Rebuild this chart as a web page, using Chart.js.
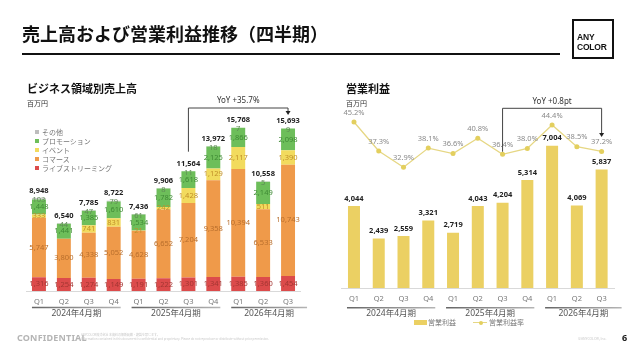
<!DOCTYPE html>
<html><head><meta charset="utf-8">
<script src="https://cdn.jsdelivr.net/npm/chart.js@4.4.1/dist/chart.umd.min.js"></script>
<style>
body{margin:0;width:640px;height:358px;overflow:hidden;background:#fff;position:relative;font-family:'Noto Sans CJK JP','Noto Sans',sans-serif;}
.abs{position:absolute;white-space:nowrap;}
canvas{position:absolute;top:0;}
.lg{position:absolute;left:35px;font-size:7px;line-height:9px;color:#777;}
.lg i{display:inline-block;width:4px;height:4px;margin-right:3px;vertical-align:1px;}
</style></head><body>
<canvas id="c1" width="320" height="358" style="left:0"></canvas>
<canvas id="c2" width="320" height="358" style="left:320px"></canvas>

<div class="abs" style="left:22px;top:22px;font-size:18px;font-weight:bold;color:#111;line-height:22px;">売上高および営業利益推移（四半期）</div>
<div class="abs" style="left:22px;top:53px;width:538px;height:2px;background:#111;"></div>
<div class="abs" style="left:572px;top:19px;width:38px;height:36px;border:2px solid #111;"></div>
<div class="abs" style="left:577px;top:33px;font-family:'Liberation Sans',sans-serif;font-size:8.5px;font-weight:bold;line-height:9.5px;color:#111;letter-spacing:-0.2px;">ANY<br>COLOR</div>

<div class="abs" style="left:27px;top:81px;font-size:11px;font-weight:bold;line-height:14px;color:#111;">ビジネス領域別売上高</div>
<div class="abs" style="left:27px;top:98px;font-size:7px;line-height:10px;color:#333;">百万円</div>
<div class="lg" style="top:127.5px"><i style="background:#bdbdbd"></i>その他</div>
<div class="lg" style="top:136.5px"><i style="background:#6dbe5a"></i>プロモーション</div>
<div class="lg" style="top:145.5px"><i style="background:#f2db5e"></i>イベント</div>
<div class="lg" style="top:154.5px"><i style="background:#ef9a4a"></i>コマース</div>
<div class="lg" style="top:163.5px"><i style="background:#dc4b4b"></i>ライブストリーミング</div>

<div class="abs" style="left:346px;top:81px;font-size:11px;font-weight:bold;line-height:14px;color:#111;">営業利益</div>
<div class="abs" style="left:346px;top:98px;font-size:7px;line-height:10px;color:#333;">百万円</div>

<div class="abs" style="left:414px;top:320px;width:13px;height:5px;background:#ebd063;"></div>
<div class="abs" style="left:428px;top:318px;font-size:7px;line-height:9px;color:#777;">営業利益</div>
<div class="abs" style="left:473px;top:322px;width:14px;height:1px;background:#e6d784;"></div>
<div class="abs" style="left:478.5px;top:320.5px;width:4px;height:4px;border-radius:2px;background:#e3cf5e;"></div>
<div class="abs" style="left:489px;top:318px;font-size:7px;line-height:9px;color:#777;">営業利益率</div>

<div class="abs" style="left:17px;top:332px;font-family:'Noto Sans',sans-serif;font-size:9px;font-weight:bold;line-height:12px;color:#b5b5b5;letter-spacing:0.2px;">CONFIDENTIAL</div>
<div class="abs" style="left:81px;top:333px;font-size:3px;line-height:4px;color:#c8c8c8;">ANYCOLOR株式会社 本資料の無断転載・複製を禁じます。<br>Information contained in this document is confidential and proprietary. Please do not reproduce or distribute without prior permission.</div>
<div class="abs" style="left:578px;top:336px;font-size:3.5px;line-height:5px;color:#c8c8c8;">©ANYCOLOR, Inc.</div>
<div class="abs" style="left:622px;top:332px;font-family:'Noto Sans',sans-serif;font-size:9px;font-weight:bold;line-height:12px;color:#111;">6</div>

<script>
const quarters = ['Q1','Q2','Q3','Q4','Q1','Q2','Q3','Q4','Q1','Q2','Q3'];
const fiscalYears = ['2024年4月期','2025年4月期','2026年4月期'];
const fiscalYearQuarterCounts = [4,4,3];

const liveStreaming = [1316,1254,1274,1149,1191,1222,1301,1341,1385,1360,1454];
const commerce      = [5747,3800,4338,5052,4628,6652,7204,9358,10394,6533,10743];
const events        = [333,1,741,831,21,242,1428,1129,2117,511,1390];
const promotion     = [1448,1441,1385,1610,1534,1782,1618,2125,1866,2149,2098];
const otherSales    = [103,44,47,79,61,8,11,18,7,5,9];
const totalSales    = [8948,6540,7785,8722,7436,9906,11564,13972,15768,10558,15693];

const operatingProfit = [4044,2439,2559,3321,2719,4043,4204,5314,7004,4069,5837];
const operatingMargin = [45.2,37.3,32.9,38.1,36.6,40.8,36.4,38.0,44.4,38.5,37.2];

const salesYoY = 'YoY +35.7%';
const marginYoY = 'YoY +0.8pt';

const FONT = "'Noto Sans','Noto Sans CJK JP',sans-serif";
const fmt = v => String(v).replace(/\B(?=(\d{3})+(?!\d))/g, ',');

function groupPlugin(id, opts){
  return {
    id,
    afterDraw(chart){
      const ctx = chart.ctx, xs = chart.scales.x;
      ctx.save();
      let start = 0;
      fiscalYearQuarterCounts.forEach((n, g) => {
        const end = start + n - 1;
        const x1 = xs.getPixelForValue(start) - 7;
        const x2 = xs.getPixelForValue(end) + (g === fiscalYearQuarterCounts.length - 1 ? opts.lastExt : 7);
        const grad = ctx.createLinearGradient(x1, 0, x2, 0);
        grad.addColorStop(0, '#666'); grad.addColorStop(1, '#b5b5b5');
        ctx.strokeStyle = grad; ctx.lineWidth = 1.5;
        ctx.beginPath(); ctx.moveTo(x1, opts.lineY); ctx.lineTo(x2, opts.lineY); ctx.stroke();
        ctx.fillStyle = '#555'; ctx.font = '8.5px ' + FONT;
        ctx.textAlign = 'center'; ctx.textBaseline = 'middle';
        ctx.fillText(fiscalYears[g], (x1 + x2) / 2, opts.textY);
        start += n;
      });
      const b = opts.bracket;
      const xa = xs.getPixelForValue(b.from), xb = xs.getPixelForValue(b.to);
      ctx.strokeStyle = '#444'; ctx.lineWidth = 1;
      ctx.beginPath();
      ctx.moveTo(xa, b.leftBottom); ctx.lineTo(xa, b.top); ctx.lineTo(xb, b.top); ctx.lineTo(xb, b.tip - 3);
      ctx.stroke();
      ctx.fillStyle = '#222';
      ctx.beginPath(); ctx.moveTo(xb - 2.5, b.tip - 4); ctx.lineTo(xb + 2.5, b.tip - 4); ctx.lineTo(xb, b.tip); ctx.closePath(); ctx.fill();
      ctx.fillStyle = '#333'; ctx.font = '8px ' + FONT; ctx.textAlign = 'center'; ctx.textBaseline = 'middle';
      ctx.fillText(b.text, (xa + xb) / 2, b.textY);
      ctx.restore();
    }
  };
}

const xAxis = (h) => ({
  stacked: true,
  grid: {display: false, drawTicks: false},
  border: {display: true, color: '#d9d9d9'},
  ticks: {padding: 6, color: '#777', font: {size: 7.5, family: FONT}, maxRotation: 0, autoSkip: false},
  afterFit(s){ s.height = h; }
});

const barLabels1 = {
  id: 'barLabels1',
  afterDatasetsDraw(chart){
    const ctx = chart.ctx;
    ctx.save(); ctx.textAlign = 'center'; ctx.textBaseline = 'middle';
    chart.data.datasets.forEach((ds, di) => {
      chart.getDatasetMeta(di).data.forEach((bar, i) => {
        const v = ds.data[i];
        if (v < 2) return;
        let y = (bar.y + bar.base) / 2;
        if (ds.isOther) y = bar.y + 1.5;
        ctx.fillStyle = ds.labelColor; ctx.font = '7.5px ' + FONT;
        ctx.fillText(fmt(v), bar.x, y);
      });
    });
    const xs = chart.scales.x, ys = chart.scales.y;
    ctx.fillStyle = '#222'; ctx.font = 'bold 7.5px ' + FONT;
    totalSales.forEach((t, i) => ctx.fillText(fmt(t), xs.getPixelForValue(i), ys.getPixelForValue(t) - 7.5));
    ctx.restore();
  }
};

new Chart(document.getElementById('c1'), {
  type: 'bar',
  data: {
    labels: quarters,
    datasets: [
      {label: 'ライブストリーミング', data: liveStreaming, backgroundColor: '#dc4b4b', labelColor: '#a33632'},
      {label: 'コマース', data: commerce, backgroundColor: '#ef9a4a', labelColor: '#b86e2c'},
      {label: 'イベント', data: events, backgroundColor: '#f2db5e', labelColor: '#c0902a'},
      {label: 'プロモーション', data: promotion, backgroundColor: '#6dbe5a', labelColor: '#3f8a35'},
      {label: 'その他', data: otherSales, backgroundColor: '#bdbdbd', labelColor: '#5f8a55', isOther: true}
    ].map(d => Object.assign(d, {barPercentage: 0.56, categoryPercentage: 1, borderWidth: 0}))
  },
  options: {
    responsive: false, animation: false, devicePixelRatio: 1,
    layout: {padding: {left: 26.5, right: 19.5, top: 109.7, bottom: 53}},
    plugins: {legend: {display: false}, tooltip: {enabled: false}},
    scales: {x: xAxis(14), y: {stacked: true, display: false, min: 0, max: 17500}}
  },
  plugins: [barLabels1, groupPlugin('groups1', {lineY: 307.5, textY: 314, lastExt: 19,
    bracket: {from: 6, to: 10, top: 108, leftBottom: 151.7, tip: 115, text: salesYoY, textY: 101}})]
});

const labels2 = {
  id: 'labels2',
  afterDatasetsDraw(chart){
    const ctx = chart.ctx;
    ctx.save(); ctx.textAlign = 'center'; ctx.textBaseline = 'middle';
    chart.data.datasets.forEach((ds, di) => {
      chart.getDatasetMeta(di).data.forEach((el, i) => {
        if (ds.type === 'line') {
          ctx.fillStyle = '#8a8a8a'; ctx.font = '7.5px ' + FONT;
          ctx.fillText(ds.data[i].toFixed(1) + '%', el.x, el.y - 9.5);
        } else {
          ctx.fillStyle = '#222'; ctx.font = 'bold 7.5px ' + FONT;
          ctx.fillText(fmt(ds.data[i]), el.x, el.y - 7.5);
        }
      });
    });
    ctx.restore();
  }
};

new Chart(document.getElementById('c2'), {
  type: 'bar',
  data: {
    labels: quarters,
    datasets: [
      {type: 'line', label: '営業利益率', data: operatingMargin, yAxisID: 'y1', order: 0,
       borderColor: '#e6d784', borderWidth: 1.3, pointRadius: 2.5, pointBackgroundColor: '#e3cf5e', pointBorderWidth: 0, tension: 0},
      {type: 'bar', label: '営業利益', data: operatingProfit, yAxisID: 'y', order: 1,
       backgroundColor: '#ebd063', barPercentage: 0.485, categoryPercentage: 1, borderWidth: 0}
    ]
  },
  options: {
    responsive: false, animation: false, devicePixelRatio: 1,
    layout: {padding: {left: 21.6, right: 26, top: 100, bottom: 56}},
    plugins: {legend: {display: false}, tooltip: {enabled: false}},
    scales: {
      x: xAxis(14),
      y: {display: false, min: 0, max: 9261},
      y1: {display: false, min: 0, max: 51.2}
    }
  },
  plugins: [labels2, groupPlugin('groups2', {lineY: 307.7, textY: 313.5, lastExt: 20,
    bracket: {from: 6, to: 10, top: 108.3, leftBottom: 151.7, tip: 137, text: marginYoY, textY: 102}})]
});
</script>
</body></html>
